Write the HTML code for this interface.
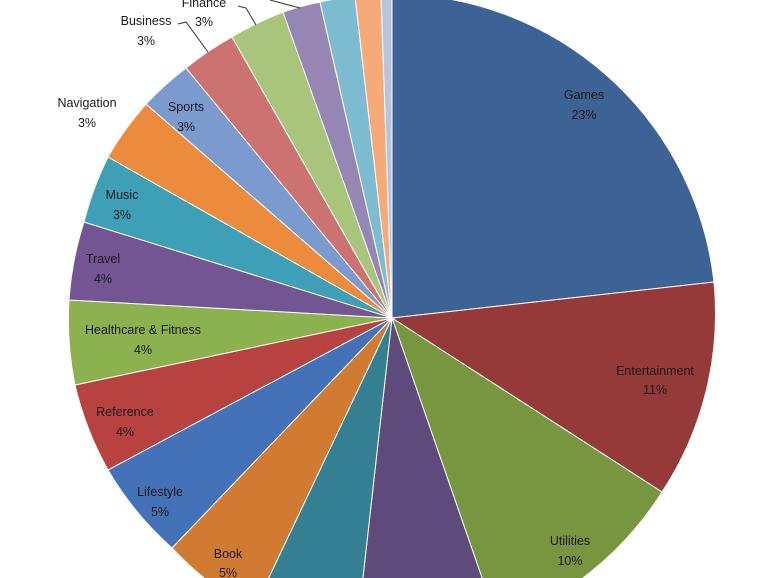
<!DOCTYPE html>
<html><head><style>html,body{margin:0;background:#fff;overflow:hidden;width:770px;height:578px}svg{display:block}text{font-family:"Liberation Sans",sans-serif;font-size:12.5px;text-anchor:middle}</style></head>
<body><svg width="770" height="578" viewBox="0 0 770 578">
<g stroke="#fff" stroke-width="1">
<path d="M392,318 L392,-6 A324,324 0 0 1 714,282 Z" fill="#3d6296"/>
<path d="M392,318 L714,282 A324,324 0 0 1 662,492 Z" fill="#953a38"/>
<path d="M392,318 L662,492 A324,324 0 0 1 498,624 Z" fill="#78953f"/>
<path d="M392,318 L498,624 A324,324 0 0 1 356,640 Z" fill="#5f4a7c"/>
<path d="M392,318 L356,640 A324,324 0 0 1 253,611 Z" fill="#357f92"/>
<path d="M392,318 L253,611 A324,324 0 0 1 172,548 Z" fill="#d07a32"/>
<path d="M392,318 L172,548 A324,324 0 0 1 108,470 Z" fill="#4472b8"/>
<path d="M392,318 L108,470 A324,324 0 0 1 75,385 Z" fill="#b84240"/>
<path d="M392,318 L75,385 A324,324 0 0 1 69,300 Z" fill="#8cb14f"/>
<path d="M392,318 L69,300 A324,324 0 0 1 84,222 Z" fill="#735593"/>
<path d="M392,318 L84,222 A324,324 0 0 1 108,157 Z" fill="#3ea0b6"/>
<path d="M392,318 L108,157 A324,324 0 0 1 146,104 Z" fill="#ed8b3d"/>
<path d="M392,318 L146,104 A324,324 0 0 1 186,68 Z" fill="#7b9acd"/>
<path d="M392,318 L186,68 A324,324 0 0 1 232,37 Z" fill="#cc7270"/>
<path d="M392,318 L232,37 A324,324 0 0 1 283,12 Z" fill="#a9c57c"/>
<path d="M392,318 L283,12 A324,324 0 0 1 320,2 Z" fill="#9686b3"/>
<path d="M392,318 L320,2 A324,324 0 0 1 355,-4 Z" fill="#7cbbd0"/>
<path d="M392,318 L355,-4 A324,324 0 0 1 381,-6 Z" fill="#f6aa79"/>
<path d="M392,318 L381,-6 A324,324 0 0 1 392,-6 Z" fill="#b8c4dd"/>
</g>
<g fill="none" stroke="#333" stroke-width="1">
<path d="M238,6 L246,8 L256,25"/><path d="M178,24 L186,22 L208,52"/><path d="M270,0 L300,8"/>
</g>
<g fill="#1a1a1a">
<text x="584" y="99">Games</text><text x="584" y="119">23%</text>
<text x="655" y="375">Entertainment</text><text x="655" y="394">11%</text>
<text x="570" y="545">Utilities</text><text x="570" y="565">10%</text>
<text x="228" y="558">Book</text><text x="228" y="577">5%</text>
<text x="160" y="496">Lifestyle</text><text x="160" y="516">5%</text>
<text x="125" y="416">Reference</text><text x="125" y="436">4%</text>
<text x="143" y="334">Healthcare &amp; Fitness</text><text x="143" y="354">4%</text>
<text x="103" y="263">Travel</text><text x="103" y="283">4%</text>
<text x="122" y="199">Music</text><text x="122" y="219">3%</text>
<text x="186" y="111">Sports</text><text x="186" y="131">3%</text>
<text x="87" y="107">Navigation</text><text x="87" y="127">3%</text>
<text x="146" y="25">Business</text><text x="146" y="45">3%</text>
<text x="204" y="7">Finance</text><text x="204" y="26">3%</text>
</g>
</svg></body></html>
